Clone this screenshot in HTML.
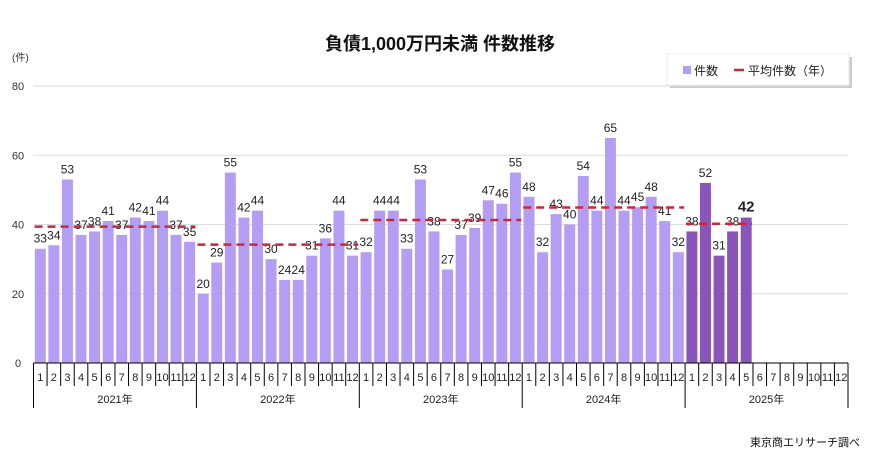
<!DOCTYPE html>
<html><head><meta charset="utf-8"><style>
body{margin:0;background:#fff;font-family:"Liberation Sans","Noto Sans CJK JP",sans-serif;}
svg text{font-family:"Liberation Sans","Noto Sans CJK JP",sans-serif;}
</style></head><body>
<svg id="c" width="872" height="461" xmlns="http://www.w3.org/2000/svg">
<text x="440" y="50" text-anchor="middle" font-size="18" font-weight="bold" fill="#111">負債1,000万円未満  件数推移</text>
<text x="12" y="61" font-size="10" fill="#333">(件)</text>
<g>
<rect x="670" y="57" width="182" height="31" fill="#aaa" opacity="0.6"/>
<rect x="667" y="54" width="182" height="31" fill="#fff" stroke="#eee"/>
<rect x="683" y="66" width="8" height="8" fill="#b39ef3"/>
<text x="694" y="75" font-size="12" fill="#222">件数</text>
<line x1="734" y1="70" x2="744" y2="70" stroke="#c8283c" stroke-width="2.5"/>
<text x="748" y="75" font-size="12" fill="#222">平均件数（年）</text>
</g>
<g id="plot"></g>
<text x="860" y="446" text-anchor="end" font-size="11" fill="#111">東京商エリサーチ調べ</text>
</svg>
<script>
const years=["2021年","2022年","2023年","2024年","2025年"];
const values2021=[33,34,53,37,38,41,37,42,41,44,37,35];
const values2022=[20,29,55,42,44,30,24,24,31,36,44,31];
const values2023=[32,44,44,33,53,38,27,37,39,47,46,55];
const values2024=[48,32,43,40,54,44,65,44,45,48,41,32];
const values2025=[38,52,31,38,42];
const yearAvg=[39.4,34.2,41.3,44.9,40.2];
const yTicks=[0,20,40,60,80];
const series=[values2021,values2022,values2023,values2024,values2025];
const NS="http://www.w3.org/2000/svg";
const g=document.getElementById('plot');
const x0=33.5,x1=848,y0=363,yTop=86,nM=60,bw=(x1-x0)/nM;
const ys=v=>y0-(v/80)*(y0-yTop);
const xs=i=>x0+i*bw;
function mk(t,a){const e=document.createElementNS(NS,t);for(const k in a)e.setAttribute(k,a[k]);g.appendChild(e);return e;}
yTicks.forEach(t=>{
 if(t>0){const l=mk('line',{x1:x0,x2:x1,y1:ys(t),y2:ys(t),stroke:'#ddd','stroke-width':1});
 
 }
 const tx=mk('text',{x:18,y:ys(t)+4,'font-size':11,fill:'#333','text-anchor':'middle'});tx.textContent=t;
 
 
});
series.forEach((arr,yi)=>{
 arr.forEach((v,m)=>{
  const i=yi*12+m;const last=(yi==4&&m==arr.length-1);
  const r=mk('rect',{x:xs(i)+1.3,y:ys(v),width:bw-2.6,height:y0-ys(v),fill:yi==4?'#8a55b8':'#b39ef3'});
  
  
  const t=mk('text',{x:xs(i)+bw/2,y:ys(v)-6,'font-size':last?15:12,'font-weight':last?'bold':'normal',fill:'#222','text-anchor':'middle'});
  t.textContent=v;
  
  
 });
 const l=mk('line',{x1:xs(yi*12)+1,x2:xs(yi*12+arr.length)-1,y1:ys(yearAvg[yi]),y2:ys(yearAvg[yi]),stroke:'#c8283c','stroke-width':2.5,'stroke-dasharray':'8,5'});
 
 
});
const ax=mk('line',{x1:x0,x2:x1,y1:y0,y2:y0,stroke:'#000','stroke-width':1});


for(let i=0;i<=nM;i++){
 const yr=i%12==0;
 const tk=mk('line',{x1:xs(i),x2:xs(i),y1:y0,y2:yr?408:386,stroke:'#000','stroke-width':1});
 
 
 if(i<nM){const t=mk('text',{x:xs(i)+bw/2,y:381,'font-size':11,fill:'#222','text-anchor':'middle'});t.textContent=(i%12)+1;
 
 }
}
years.forEach((y,yi)=>{
 const t=mk('text',{x:xs(yi*12+6),y:403,'font-size':11,fill:'#222','text-anchor':'middle'});t.textContent=y;
 
 
});
</script>
</body></html>
